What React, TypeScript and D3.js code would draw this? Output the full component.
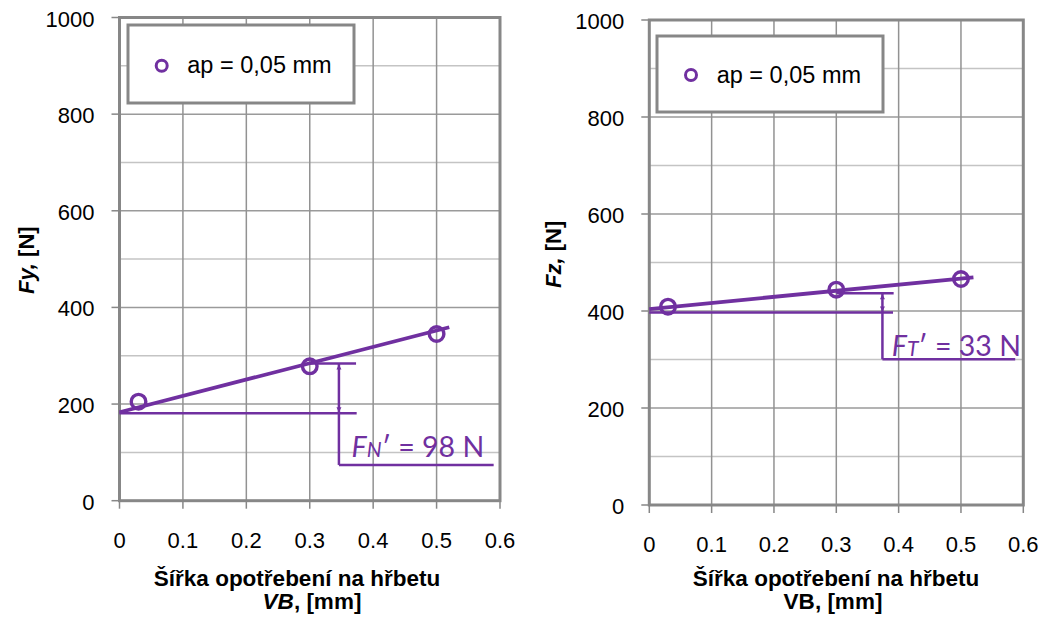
import React from "react";
import * as d3 from "d3";

// ---- data ----
const xTicks = [0, 0.1, 0.2, 0.3, 0.4, 0.5, 0.6];
const yTicks = [0, 200, 400, 600, 800, 1000];
const yMinorTicks = [100, 300, 500, 700, 900];
const vbValues = [0.03, 0.3, 0.5];
const fyValues = [205, 278, 345];
const fzValues = [409, 444, 466];
const trendX = [0, 0.52];
const fyTrend = [183, 359];
const fzTrend = [404, 469.5];
const legendLabel = "ap = 0,05 mm";
const xTitleLine1 = "Šířka opotřebení na hřbetu";
// annotation brackets: [lowLevel, highLevel, baseLevel]
const fyBracket = [181, 284, 74];
const fzBracket = [397, 436.5, 300.5];
// annotation x: [vertical, lowEnd, highStart, highEnd, baseEnd, textX]
const fyBracketX = [0.346, 0.374, 0.3, 0.373, 0.59, 0.366];
const fzBracketX = [0.374, 0.391, 0.3, 0.392, 0.587, 0.389];
const fyTextY = 90;
const fzTextY = 307;

const PURPLE = "#7030A0";
const FONT = "'Liberation Sans', Arial, sans-serif";
const ANNOT_FONT = "Lato, 'Open Sans', sans-serif";

type PanelProps = {
  x0: number; x1: number; y0: number; y1: number;
  values: number[]; trend: number[];
  bracket: number[]; bracketX: number[]; textY: number;
  sym: string; sub: string; delta: string;
  yTitle: string; yTitleSub: string; yTitleBaseX: number; yTitleStartY: number;
  line2Italic: boolean; line1CX: number; line2CX: number; line1Y: number; line2Y: number;
  legend: { x: number; y: number; w: number; h: number; mx: number; my: number; tx: number; ty: number };
};

function Panel(p: PanelProps) {
  const x = d3.scaleLinear().domain([0, 0.6]).range([p.x0, p.x1]);
  const y = d3.scaleLinear().domain([0, 1000]).range([p.y1, p.y0]);
  const line = d3.line<number>().x((_, i) => x(trendX[i])).y((d) => y(d));
  const [bv, bLowEnd, bHiStart, bHiEnd, bBaseEnd, tX] = p.bracketX;
  const [lowL, hiL, baseL] = p.bracket;
  const vx = x(bv);
  return (
    <g>
      {yMinorTicks.map((t) => (
        <line key={"m" + t} x1={p.x0} x2={p.x1} y1={y(t)} y2={y(t)} stroke="#c4c4c4" strokeWidth={1.5} />
      ))}
      {yTicks.map((t) => (
        <line key={"h" + t} x1={p.x0} x2={p.x1} y1={y(t)} y2={y(t)} stroke="#9a9a9a" strokeWidth={1.5} />
      ))}
      {xTicks.map((t) => (
        <line key={"v" + t} x1={x(t)} x2={x(t)} y1={p.y0} y2={p.y1} stroke="#929292" strokeWidth={1.5} />
      ))}
      <rect x={p.x0} y={p.y0} width={p.x1 - p.x0} height={p.y1 - p.y0} fill="none" stroke="#878787" strokeWidth={3} />
      {yTicks.map((t) => (
        <line key={"yt" + t} x1={p.x0 - 8} x2={p.x0} y1={y(t)} y2={y(t)} stroke="#878787" strokeWidth={1.5} />
      ))}
      {xTicks.map((t) => (
        <line key={"xt" + t} x1={x(t)} x2={x(t)} y1={p.y1} y2={p.y1 + 8} stroke="#878787" strokeWidth={1.5} />
      ))}
      {yTicks.map((t) => (
        <text key={"yl" + t} x={p.x0 - 25} y={y(t) + 9} textAnchor="end" fontFamily={FONT} fontSize={22} fill="#000">
          {t}
        </text>
      ))}
      {xTicks.map((t) => (
        <text key={"xl" + t} x={x(t)} y={p.y1 + 47} textAnchor="middle" fontFamily={FONT} fontSize={22} fill="#000">
          {t === 0 ? "0" : t.toFixed(1)}
        </text>
      ))}
      <rect x={p.legend.x} y={p.legend.y} width={p.legend.w} height={p.legend.h} fill="#fff" stroke="#878787" strokeWidth={3} />
      <circle cx={p.legend.mx} cy={p.legend.my} r={5.5} fill="#fff" stroke={PURPLE} strokeWidth={3} />
      <text x={p.legend.tx} y={p.legend.ty} fontFamily={FONT} fontSize={23.5} fill="#000">{legendLabel}</text>
      <g stroke={PURPLE} strokeWidth={2.5} fill="none">
        <line x1={p.x0} x2={x(bLowEnd)} y1={y(lowL)} y2={y(lowL)} />
        <line x1={x(bHiStart)} x2={x(bHiEnd)} y1={y(hiL)} y2={y(hiL)} />
        <line x1={vx} x2={vx} y1={y(hiL)} y2={y(baseL)} />
        <line x1={vx} x2={x(bBaseEnd)} y1={y(baseL)} y2={y(baseL)} />
      </g>
      <path d={`M${vx},${y(hiL) + 1} l-2.5,5 l5,0 z`} fill={PURPLE} />
      <path d={`M${vx},${y(lowL) - 1} l-2.5,-5 l5,0 z`} fill={PURPLE} />
      <text x={x(tX)} y={y(p.textY)} fontFamily={ANNOT_FONT} fontSize={28.5} fill={PURPLE}>
        <tspan fontStyle="italic">{p.sym}</tspan>
        <tspan fontStyle="italic" fontSize={21}>{p.sub}</tspan>
        <tspan>{"′ = " + p.delta + " N"}</tspan>
      </text>
      <path d={line(p.trend) || ""} fill="none" stroke={PURPLE} strokeWidth={3.8} />
      {p.values.map((v, i) => (
        <circle key={"pt" + i} cx={x(vbValues[i])} cy={y(v)} r={7.3} fill="none" stroke={PURPLE} strokeWidth={3.4} />
      ))}
      <text
        transform={`translate(${p.yTitleBaseX},${p.yTitleStartY}) rotate(-90)`}
        fontFamily={FONT}
        fontSize={22}
        fontWeight="bold"
        fill="#000"
      >
        <tspan fontStyle="italic">{p.yTitle}</tspan>
        <tspan>{p.yTitleSub}</tspan>
      </text>
      <text x={p.line1CX} y={p.line1Y} textAnchor="middle" fontFamily={FONT} fontSize={22.5} fontWeight="bold" fill="#000">
        {xTitleLine1}
      </text>
      <text x={p.line2CX} y={p.line2Y} textAnchor="middle" fontFamily={FONT} fontSize={22.5} fontWeight="bold" fill="#000">
        <tspan fontStyle={p.line2Italic ? "italic" : "normal"}>VB</tspan>
        <tspan>, [mm]</tspan>
      </text>
    </g>
  );
}

export default function App() {
  return (
    <svg width={1043} height={621} style={{ position: "absolute", left: 0, top: 0, background: "#fff" }}>
      <rect x={0} y={0} width={1043} height={621} fill="#fff" />
      <Panel
        x0={119.5} x1={500} y0={17.5} y1={500.7}
        values={fyValues} trend={fyTrend}
        bracket={fyBracket} bracketX={fyBracketX} textY={fyTextY}
        sym="F" sub="N" delta="98"
        yTitle="Fy," yTitleSub=" [N]" yTitleBaseX={34} yTitleStartY={294}
        line2Italic={true} line1CX={297} line2CX={312} line1Y={586} line2Y={609}
        legend={{ x: 128, y: 25, w: 226, h: 78, mx: 161.7, my: 65.7, tx: 187.3, ty: 73.3 }}
      />
      <Panel
        x0={649.3} x1={1023.3} y0={20} y1={505}
        values={fzValues} trend={fzTrend}
        bracket={fzBracket} bracketX={fzBracketX} textY={fzTextY}
        sym="F" sub="T" delta="33"
        yTitle="Fz," yTitleSub=" [N]" yTitleBaseX={561} yTitleStartY={288}
        line2Italic={false} line1CX={836} line2CX={833} line1Y={586} line2Y={609}
        legend={{ x: 657, y: 36, w: 226, h: 76, mx: 691, my: 75, tx: 716.7, ty: 82.7 }}
      />
    </svg>
  );
}
